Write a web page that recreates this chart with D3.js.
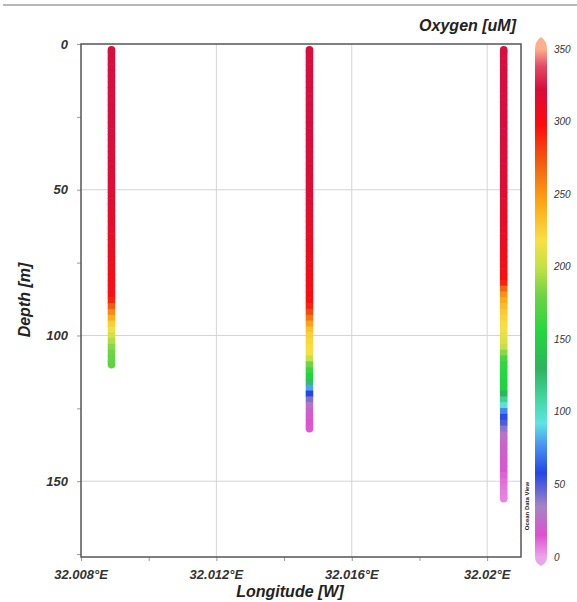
<!DOCTYPE html>
<html>
<head>
<meta charset="utf-8">
<script src="https://cdn.jsdelivr.net/npm/d3@7"></script>
<style>
  html, body { margin: 0; padding: 0; background: #fff; }
  svg { display: block; }
  text { font-family: "Liberation Sans", Arial, sans-serif; fill: #222; }
</style>
</head>
<body>
<svg id="chart" width="577" height="602"></svg>
<script>
// ---------------- DATA ----------------
const stationLon = [32.0089, 32.01475, 32.02049];

const depth1 = [2,4,6,8,10,12,14,16,18,20,22,24,26,28,30,32,34,36,38,40,42,44,46,48,50,52,54,56,58,60,62,64,66,68,70,72,74,76,78,80,82,84,86,88,90,92,94,96,98,100,102,104,106,108,110];
const oxy1   = [323,323,323,323,323,323,323,323,323,323,323,322,322,322,322,322,321,321,321,320,320,319,319,318,318,317,317,316,315,314,313,312,311,310,309,308,307,306,305,304,303,302,298,290,272,255,240,226,215,205,195,186,180,177,175];

const depth2 = [2,4,6,8,10,12,14,16,18,20,22,24,26,28,30,32,34,36,38,40,42,44,46,48,50,52,54,56,58,60,62,64,66,68,70,72,74,76,78,80,82,84,86,88,90,92,94,96,98,100,102,104,106,108,110,112,114,116,118,120,122,124,126,128,130,132];
const oxy2   = [323,323,323,323,323,323,323,323,323,323,323,323,322,322,322,322,322,321,321,321,320,320,319,319,318,318,317,316,315,314,313,312,311,310,309,308,307,306,305,304,303,302,300,296,290,278,262,246,232,225,222,220,216,200,180,162,152,125,80,58,42,28,22,19,16,14];

const depth3 = [2,4,6,8,10,12,14,16,18,20,22,24,26,28,30,32,34,36,38,40,42,44,46,48,50,52,54,56,58,60,62,64,66,68,70,72,74,76,78,80,82,84,86,88,90,92,94,96,98,100,102,104,106,108,110,112,114,116,118,120,122,124,126,128,130,132,134,136,138,140,142,144,146,148,150,152,154,156];
const oxy3   = [323,323,323,323,323,323,323,323,323,323,323,322,322,322,322,322,321,321,321,320,320,319,319,318,318,317,316,315,314,313,312,311,310,309,308,306,305,304,302,300,290,268,252,242,234,228,224,220,216,212,208,200,186,168,160,156,154,152,150,132,112,96,74,56,50,40,28,24,22,21,20,19,18,12,10,8,7,6];

const xTicks = [32.008, 32.012, 32.016, 32.02];
const xTickLabels = ["32.008°E", "32.012°E", "32.016°E", "32.02°E"];
const yTicks = [0, 50, 100, 150];
const cbTicks = [0, 50, 100, 150, 200, 250, 300, 350];

// ODV-like colour map
const cStops  = [0, 15, 35, 58, 78, 92, 108, 130, 155, 180, 200, 218, 245, 272, 298, 322, 338, 350];
const cColors = ["#eaa4ea","#e050d0","#a484c4","#2246e6","#4a98f2","#5ee4e4","#44d8a4","#2cb45c","#22d83e","#6cd444","#c4e244","#f8e044","#ffa414","#f25c10","#ff0a0a","#d80c3c","#e44866","#ffae8e"];

// ---------------- CHART ----------------
const svg = d3.select("#chart");
const L = 81, R = 521, T = 44, B = 557;

const x = d3.scaleLinear().domain([32.008, 32.021]).range([L, R]);
const y = d3.scaleLinear().domain([0, 176]).range([T, B]);
const color = d3.scaleLinear().domain(cStops).range(cColors).clamp(true);

const defs = svg.append("defs");
defs.append("filter").attr("id", "soft").attr("x", "-50%").attr("y", "-2%").attr("width", "200%").attr("height", "104%")
  .append("feGaussianBlur").attr("stdDeviation", 0.7);

// top gray rule
svg.append("line").attr("x1", 3).attr("x2", 577).attr("y1", 5).attr("y2", 5)
  .attr("stroke", "#b8b8b8").attr("stroke-width", 2);

// gridlines
const grid = svg.append("g");
grid.selectAll("line.vx").data(xTicks.slice(1)).join("line")
  .attr("x1", d => x(d)).attr("x2", d => x(d)).attr("y1", T).attr("y2", B)
  .attr("stroke", "#d4d4d4").attr("stroke-width", 1);
grid.selectAll("line.hy").data(yTicks.slice(1)).join("line")
  .attr("x1", L).attr("x2", R).attr("y1", d => y(d)).attr("y2", d => y(d))
  .attr("stroke", "#d4d4d4").attr("stroke-width", 1);

// axes (minor ticks outward)
const yAxis = d3.axisLeft(y).tickValues(d3.range(0, 176, 25)).tickSize(4).tickFormat("");
svg.append("g").attr("transform", `translate(${L},0)`).call(yAxis)
  .call(g => g.select(".domain").remove())
  .call(g => g.selectAll("line").attr("stroke", "#999"));
const xAxis = d3.axisBottom(x).tickValues(d3.range(32.008, 32.0211, 0.002)).tickSize(4).tickFormat("");
svg.append("g").attr("transform", `translate(0,${B})`).call(xAxis)
  .call(g => g.select(".domain").remove())
  .call(g => g.selectAll("line").attr("stroke", "#999"));

// tick labels
svg.selectAll("text.ylab").data(yTicks).join("text")
  .attr("x", 68).attr("y", d => y(d)).attr("dy", "0.35em")
  .attr("text-anchor", "end").style("fill", "#333")
  .style("font-size", "13px").style("font-weight", "bold").style("font-style", "italic")
  .text(d => d);
svg.selectAll("text.xlab").data(xTicks).join("text")
  .attr("x", d => x(d)).attr("y", 579)
  .attr("text-anchor", "middle").style("fill", "#333")
  .style("font-size", "13px").style("font-weight", "bold").style("font-style", "italic")
  .text((d, i) => xTickLabels[i]);

// axis titles
svg.append("text").attr("x", 290).attr("y", 597).attr("text-anchor", "middle")
  .style("font-size", "16px").style("font-weight", "bold").style("font-style", "italic")
  .text("Longitude [W]");
svg.append("text").attr("transform", "translate(30,300) rotate(-90)").attr("text-anchor", "middle")
  .style("font-size", "16px").style("font-weight", "bold").style("font-style", "italic")
  .text("Depth [m]");
svg.append("text").attr("x", 516).attr("y", 31).attr("text-anchor", "end")
  .style("font-size", "16px").style("font-weight", "bold").style("font-style", "italic")
  .text("Oxygen [uM]");

// data: continuous stripes built from the samples
const stations = [
  {lon: stationLon[0], depth: depth1, oxy: oxy1},
  {lon: stationLon[1], depth: depth2, oxy: oxy2},
  {lon: stationLon[2], depth: depth3, oxy: oxy3}
];
const W = 7.5;
const pts = svg.append("g").attr("filter", "url(#soft)");
stations.forEach(s => {
  const d = s.depth.map((z, i) => ({z, o: s.oxy[i]}));
  const cx = x(s.lon);
  const g = pts.append("g");
  // end caps
  g.append("circle").attr("cx", cx).attr("cy", y(d[0].z)).attr("r", W / 2).attr("fill", color(d[0].o));
  g.append("circle").attr("cx", cx).attr("cy", y(d[d.length - 1].z)).attr("r", W / 2).attr("fill", color(d[d.length - 1].o));
  g.selectAll("rect").data(d).join("rect")
    .attr("x", cx - W / 2).attr("width", W)
    .attr("y", (p, i) => i === 0 ? y(p.z) : y((p.z + d[i - 1].z) / 2) - 0.3)
    .attr("height", (p, i) => {
      const top = i === 0 ? y(p.z) : y((p.z + d[i - 1].z) / 2) - 0.3;
      const bot = i === d.length - 1 ? y(p.z) : y((p.z + d[i + 1].z) / 2) + 0.3;
      return bot - top;
    })
    .attr("fill", p => color(p.o));
});

// frame
svg.append("rect").attr("x", L).attr("y", T).attr("width", R - L).attr("height", B - T)
  .attr("fill", "none").attr("stroke", "#555").attr("stroke-width", 1.5);

// colour bar
const cy = d3.scaleLinear().domain([0, 350]).range([557, 49]);
const grad = defs.append("linearGradient").attr("id", "cb").attr("x1", 0).attr("x2", 0).attr("y1", 1).attr("y2", 0);
grad.selectAll("stop").data(cStops).join("stop")
  .attr("offset", d => d / 350).attr("stop-color", (d, i) => cColors[i]);
const cbX = 535, cbW = 12;
svg.append("rect").attr("x", cbX).attr("y", cy(350)).attr("width", cbW).attr("height", cy(0) - cy(350))
  .attr("fill", "url(#cb)");
svg.append("path")
  .attr("d", `M${cbX},${cy(350)} Q${cbX},${cy(350) - 8} ${cbX + cbW / 2},${cy(350) - 12} Q${cbX + cbW},${cy(350) - 8} ${cbX + cbW},${cy(350)} Z`)
  .attr("fill", color(350));
svg.append("path")
  .attr("d", `M${cbX},${cy(0)} Q${cbX},${cy(0) + 6} ${cbX + cbW / 2},${cy(0) + 9} Q${cbX + cbW},${cy(0) + 6} ${cbX + cbW},${cy(0)} Z`)
  .attr("fill", color(0));
svg.selectAll("text.cb").data(cbTicks).join("text")
  .attr("x", 554).attr("y", d => cy(d)).attr("dy", "0.35em").style("fill", "#333")
  .style("font-size", "10px").style("font-style", "italic")
  .text(d => d);

// watermark
svg.append("text").attr("transform", "translate(529,506) rotate(-90)").attr("text-anchor", "middle")
  .style("font-size", "6px").style("font-weight", "bold")
  .text("Ocean Data View");
</script>
</body>
</html>
